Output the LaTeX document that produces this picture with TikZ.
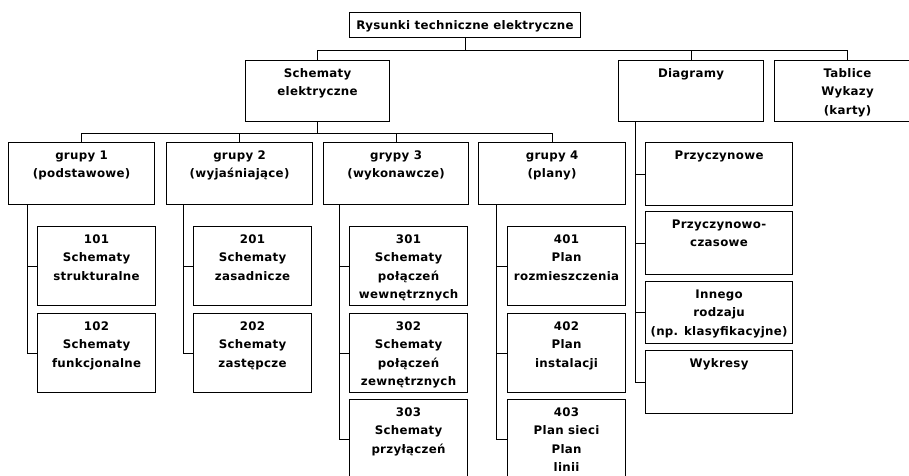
\documentclass[tikz,border=0pt]{standalone}
\usepackage{fontspec}
\setmainfont{DejaVu Sans}[LetterSpace=2.5]
\newcommand{\cell}[3]{\parbox[c][#2pt][t]{#1pt}{\centering\rule{0pt}{17pt}#3}}

\begin{document}
\begin{tikzpicture}[
   x=1pt, y=-1pt,
   blk/.style={draw, line width=1.1pt, inner sep=0pt, anchor=north west,
      font=\fontsize{11.8}{18.3}\selectfont\bfseries},
   link/.style={line width=1pt}
]
\clip (0,0) rectangle (909,475);

% Top level
\node[blk] (root) at (349,12) {\cell{231}{25}{Rysunki techniczne elektryczne}};
\node[blk] (sch) at (245,60) {\cell{144}{61}{Schematy\\elektryczne}};
\node[blk] (diag) at (618,60) {\cell{145}{61}{Diagramy}};
\node[blk] (tabl) at (774,60) {\cell{146}{61}{Tablice\\Wykazy\\(karty)}};
\draw[link] (root.south) -- ++(0,12.5) coordinate (bus)
   (sch.north) |- (bus) -| (tabl.north)
   (bus -| diag.north) -- (diag.north);

% Groups
\node[blk] (g1) at (8,142) {\cell{146}{62}{grupy 1\\(podstawowe)}};
\node[blk] (g2) at (166,142) {\cell{146}{62}{grupy 2\\(wyjaśniające)}};
\node[blk] (g3) at (323,142) {\cell{145}{62}{grypy 3\\(wykonawcze)}};
\node[blk] (g4) at (478,142) {\cell{147}{62}{grupy 4\\(plany)}};
\draw[link] (sch.south) -- ++(0,11.5) coordinate (gbus)
   (g1.north) |- (gbus) -| (g4.north)
   (gbus -| g2.north) -- (g2.north)
   (gbus -| g3.north) -- (g3.north);

% Group 1
\node[blk] (s101) at (37,226) {\cell{118}{79}{101\\Schematy\\strukturalne}};
\node[blk] (s102) at (37,313) {\cell{118}{79}{102\\Schematy\\funkcjonalne}};
\coordinate (v1) at ([xshift=19pt]g1.south west);
\draw[link] (v1) |- (s102.west)
   (s101.west) -- (s101.west -| v1);

% Group 2
\node[blk] (s201) at (193,226) {\cell{118}{79}{201\\Schematy\\zasadnicze}};
\node[blk] (s202) at (193,313) {\cell{118}{79}{202\\Schematy\\zastępcze}};
\coordinate (v2) at ([xshift=17pt]g2.south west);
\draw[link] (v2) |- (s202.west)
   (s201.west) -- (s201.west -| v2);

% Group 3
\node[blk] (s301) at (349,226) {\cell{118}{79}{301\\Schematy\\połączeń\\wewnętrznych}};
\node[blk] (s302) at (349,313) {\cell{118}{79}{302\\Schematy\\połączeń\\zewnętrznych}};
\node[blk] (s303) at (349,399) {\cell{118}{80}{303\\Schematy\\przyłączeń}};
\coordinate (v3) at ([xshift=16pt]g3.south west);
\draw[link] (v3) |- (s303.west)
   (s301.west) -- (s301.west -| v3)
   (s302.west) -- (s302.west -| v3);

% Group 4
\node[blk] (p401) at (507,226) {\cell{118}{79}{401\\Plan\\rozmieszczenia}};
\node[blk] (p402) at (507,313) {\cell{118}{79}{402\\Plan\\instalacji}};
\node[blk] (p403) at (507,399) {\cell{118}{80}{403\\Plan sieci\\Plan\\linii}};
\coordinate (v4) at ([xshift=18pt]g4.south west);
\draw[link] (v4) |- (p403.west)
   (p401.west) -- (p401.west -| v4)
   (p402.west) -- (p402.west -| v4);

% Diagrams
\node[blk] (d1) at (645,142) {\cell{147}{63}{Przyczynowe}};
\node[blk] (d2) at (645,211) {\cell{147}{63}{Przyczynowo-\\czasowe}};
\node[blk] (d3) at (645,281) {\cell{147}{62}{Innego\\rodzaju\\(np. klasyfikacyjne)}};
\node[blk] (d4) at (645,350) {\cell{147}{63}{Wykresy}};
\coordinate (vd) at ([xshift=17pt]diag.south west);
\draw[link] (vd) |- (d4.west)
   (d1.west) -- (d1.west -| vd)
   (d2.west) -- (d2.west -| vd)
   (d3.west) -- (d3.west -| vd);

\end{tikzpicture}
\end{document}
